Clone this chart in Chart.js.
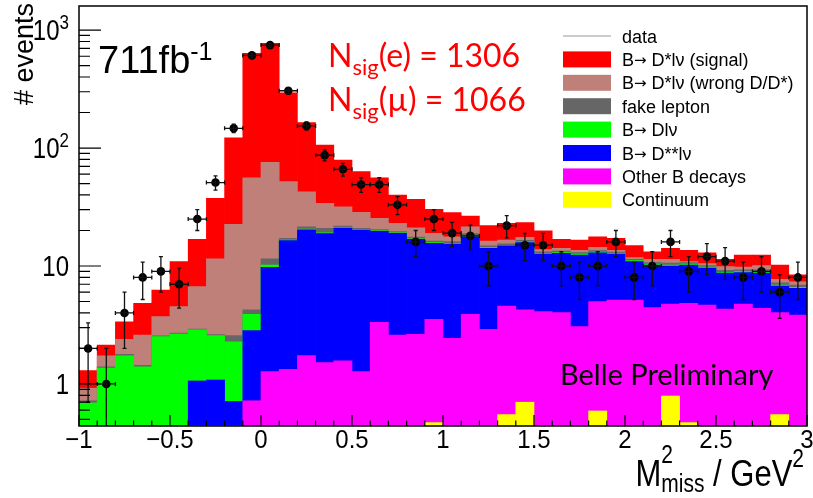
<!DOCTYPE html>
<html>
<head>
<meta charset="utf-8">
<title>M2miss distribution</title>
<script src="https://cdn.jsdelivr.net/npm/chart.js@4.4.1/dist/chart.umd.min.js"></script>
<style>
  html, body { margin: 0; padding: 0; background: #fff; }
  canvas { display: block; }
</style>
</head>
<body>
<canvas id="mmissChart" width="813" height="498"></canvas>
<script>
// 40 bins of 0.1 GeV^2 between -1 and 3
const binLow = -1, binWidth = 0.1, nBins = 40;
const binLabels = [];
for (let i = 0; i < nBins; i++) binLabels.push((binLow + binWidth * (i + 0.5)).toFixed(2));

// observed events per bin and their errors
const dataCounts = [2, 1, 4, 8, 9, 7, 25, 51, 147, 610,
                    746, 306, 154, 87, 66, 49, 49, 33, 16, 25,
                    19, 18, 10, 22, 15, 15, 10, 8, 10, 16,
                    8, 10, 16, 9, 12, 11, 8, 9, 6, 8];
const dataErrors = [1.3, 1.0, 2.0, 2.8, 3.0, 2.6, 5.0, 7.1, 12.1, 24.7,
                    27.3, 17.5, 12.4, 9.3, 8.1, 7.0, 7.0, 5.7, 4.0, 5.0,
                    4.4, 4.2, 3.2, 4.7, 3.9, 3.9, 3.2, 2.8, 3.2, 4.0,
                    2.8, 3.2, 4.0, 3.0, 3.5, 3.3, 2.8, 3.0, 2.4, 2.8];

// stacked MC: height of the stack at the top of each component
const topContinuum = [0, 0, 0, 0, 0, 0, 0, 0, 0, 0,
                      0, 0, 0, 0, 0, 0, 0, 0, 0, 0.47,
                      0, 0, 0, 0.55, 0.70, 0, 0, 0, 0.59, 0,
                      0, 0, 0.79, 0.47, 0, 0, 0, 0, 0.55, 0];
const topOtherB = [0, 0, 0, 0, 0, 0, 0, 0, 0, 0.72,
                   1.27, 1.33, 1.74, 1.52, 1.57, 1.27, 3.33, 2.6, 2.64, 3.53,
                   2.44, 3.9, 2.9, 4.58, 4.24, 4.1, 4.02, 3.06, 4.98, 5.15,
                   5.15, 4.43, 4.76, 4.83, 4.67, 4.32, 4.76, 4.38, 4.02, 3.84];
const topDss = [0, 0, 0, 0, 0, 0, 1.06, 1.08, 0.71, 2.83,
                9.75, 16.4, 20.3, 18.8, 21.0, 20.2, 19.7, 18.9, 16.8, 15.6,
                15.3, 17.7, 14.1, 14.8, 15.8, 12.6, 12.8, 12.4, 12.9, 12.6,
                10.9, 10.2, 10.0, 10.2, 9.6, 8.7, 8.8, 8.7, 6.75, 6.47];
const topDlnu = [0.69, 1.36, 1.73, 1.40, 2.52, 2.65, 2.87, 2.57, 2.28, 3.9,
                 10.2, 16.6, 20.6, 19.1, 21.3, 20.4, 19.9, 19.1, 17.0, 15.8,
                 15.6, 17.9, 14.3, 15.0, 16.0, 12.8, 13.0, 12.6, 13.1, 12.8,
                 11.1, 10.4, 10.2, 10.4, 9.8, 8.85, 8.95, 8.85, 6.9, 6.6];
const topFake = [0.72, 1.4, 1.78, 1.44, 2.56, 2.7, 2.92, 2.62, 2.57, 4.24,
                 11.5, 17.2, 21.5, 20.9, 21.8, 20.9, 20.4, 19.6, 17.6, 16.3,
                 16.1, 18.8, 14.8, 15.4, 16.5, 13.2, 13.4, 13.0, 13.5, 13.1,
                 11.4, 10.7, 10.6, 10.7, 10.1, 9.2, 9.3, 9.3, 7.2, 6.9];
const topWrongD = [0.92, 1.73, 2.39, 2.6, 3.72, 4.52, 6.68, 11.5, 22.6, 56,
                   75.7, 52, 42.6, 34, 31.8, 28.5, 25.4, 23, 21.1, 18.9,
                   17.7, 21.5, 16.3, 16.6, 17.5, 13.8, 14.1, 13.6, 14.4, 13.6,
                   11.8, 11.4, 11.4, 10.9, 10.5, 9.9, 9.8, 10.1, 7.7, 7.35];
const topSignal = [1.3, 2.14, 3.37, 4.83, 6.26, 10.9, 16.8, 37.5, 122, 634,
                   771, 294, 164, 106, 79, 63, 56, 40, 36.7, 30.2,
                   28.3, 26.5, 22, 23, 23.3, 19.9, 16.8, 16.6, 17.7, 17.2,
                   14.9, 13.2, 14.1, 13.6, 12.9, 11.4, 12.4, 12.4, 10.2, 8.4];

// axis ranges and tick labels
const xMin = -1, xMax = 3;
const yMin = 0.44, yMax = 1600;
const xTickLabels = ['\u22121', '\u22120.5', '0', '0.5', '1', '1.5', '2', '2.5', '3'];
const xTickValues = [-1, -0.5, 0, 0.5, 1, 1.5, 2, 2.5, 3];
const yDecades = [0, 1, 2, 3];

// components, bottom of the stack first; legend text split around the arrow
const layers = [
  { label: ['', '', 'Continuum'],               data: topContinuum, color: '#ffff00' },
  { label: ['', '', 'Other B decays'],          data: topOtherB,    color: '#ff00ff' },
  { label: ['B', '\u2192', ' D**l\u03bd'],      data: topDss,       color: '#0000ff' },
  { label: ['B', '\u2192', ' Dl\u03bd'],        data: topDlnu,      color: '#00ff00' },
  { label: ['', '', 'fake lepton'],             data: topFake,      color: '#666666' },
  { label: ['B', '\u2192', ' D*l\u03bd (wrong D/D*)'], data: topWrongD, color: '#c0807a' },
  { label: ['B', '\u2192', ' D*l\u03bd (signal)'], data: topSignal,  color: '#ff0000' }
];

const ROOT_FONT = '"Liberation Sans", Arial, sans-serif';
const ARROW_FONT = '"DejaVu Sans", sans-serif';
const SLIDE_FONT = 'Lato, "Open Sans", sans-serif';

// draw a row of text pieces (sub/superscripts) as one label
function drawRuns(ctx, parts, x, y, align) {
  const pos = [];
  let cursor = 0, lastStart = 0, lastW = 0;
  parts.forEach(p => {
    ctx.font = p.size + 'px ' + (p.family || ROOT_FONT);
    const w = ctx.measureText(p.text).width;
    if (p.sameX) {
      pos.push(lastStart);
      lastW = Math.max(lastW, w);
      cursor = lastStart + lastW;
    } else {
      pos.push(cursor);
      lastStart = cursor;
      lastW = w;
      cursor += w;
    }
  });
  const x0 = align === 'right' ? x - cursor : align === 'center' ? x - cursor / 2 : x;
  parts.forEach((p, k) => {
    ctx.save();
    ctx.font = p.size + 'px ' + (p.family || ROOT_FONT);
    ctx.fillStyle = p.color || '#000';
    ctx.textAlign = 'left';
    ctx.textBaseline = 'alphabetic';
    ctx.translate(x0 + pos[k], y + (p.dy || 0));
    ctx.scale(1, p.sy || 1);
    ctx.fillText(p.text, 0, 0);
    ctx.restore();
  });
  return cursor;
}

const whiteBackground = {
  id: 'whiteBackground',
  beforeDraw(chart) {
    const ctx = chart.ctx;
    ctx.save();
    ctx.fillStyle = '#fff';
    ctx.fillRect(0, 0, chart.width, chart.height);
    ctx.restore();
  }
};

// horizontal bar over the bin width, vertical bar for the error
const errorBars = {
  id: 'errorBars',
  afterDatasetsDraw(chart) {
    const ctx = chart.ctx;
    const xs = chart.scales.x, ys = chart.scales.y;
    const area = chart.chartArea;
    const half = (xs.getPixelForValue(1) - xs.getPixelForValue(0)) / 2;
    const cap = 2;
    ctx.save();
    ctx.beginPath();
    ctx.rect(area.left, area.top, area.right - area.left, area.bottom - area.top);
    ctx.clip();
    ctx.strokeStyle = '#111';
    ctx.lineWidth = 1.3;
    dataCounts.forEach((n, i) => {
      const x = xs.getPixelForValue(i);
      const y = ys.getPixelForValue(n);
      const lo = n - dataErrors[i];
      const yHi = ys.getPixelForValue(n + dataErrors[i]);
      const yLo = lo > yMin ? ys.getPixelForValue(lo) : area.bottom + 2;
      ctx.beginPath();
      ctx.moveTo(x - half, y); ctx.lineTo(x + half, y);
      ctx.moveTo(x - half, y - cap); ctx.lineTo(x - half, y + cap);
      ctx.moveTo(x + half, y - cap); ctx.lineTo(x + half, y + cap);
      ctx.moveTo(x, yHi); ctx.lineTo(x, yLo);
      ctx.moveTo(x - cap, yHi); ctx.lineTo(x + cap, yHi);
      if (lo > yMin) { ctx.moveTo(x - cap, yLo); ctx.lineTo(x + cap, yLo); }
      ctx.stroke();
    });
    ctx.restore();
  }
};

// frame, inward ticks, labels, legend and annotations
const rootFrame = {
  id: 'rootFrame',
  afterDraw(chart) {
    const ctx = chart.ctx;
    const a = chart.chartArea;
    const xv = chart.scales.xv, ys = chart.scales.y;
    ctx.save();
    ctx.strokeStyle = '#000';
    ctx.lineWidth = 1.5;
    ctx.strokeRect(a.left, a.top, a.right - a.left, a.bottom - a.top);

    // x ticks every 0.1, long ones every 0.5
    ctx.lineWidth = 1.2;
    ctx.beginPath();
    for (let k = -10; k <= 30; k++) {
      const px = xv.getPixelForValue(k / 10);
      const len = k % 5 === 0 ? 11 : 5.5;
      ctx.moveTo(px, a.bottom); ctx.lineTo(px, a.bottom - len);
    }
    // y ticks at k * 10^n
    for (let n = -1; n <= 3; n++) {
      for (let k = 1; k <= 9; k++) {
        const v = k * Math.pow(10, n);
        if (v < yMin || v > yMax) continue;
        const py = ys.getPixelForValue(v);
        const len = k === 1 ? 22 : 11;
        ctx.moveTo(a.left, py); ctx.lineTo(a.left + len, py);
      }
    }
    ctx.stroke();

    xTickValues.forEach((v, i) => {
      drawRuns(ctx, [{ text: xTickLabels[i], size: 24, sy: 1.1 }], xv.getPixelForValue(v), 448, 'center');
    });
    yDecades.forEach(d => {
      const py = ys.getPixelForValue(Math.pow(10, d));
      const parts = d === 0 ? [{ text: '1', size: 24, sy: 1.2 }]
        : d === 1 ? [{ text: '10', size: 24, sy: 1.2 }]
        : [{ text: '10', size: 24, sy: 1.2 }, { text: String(d), size: 17, sy: 1.2, dy: -11 }];
      drawRuns(ctx, parts, 69, py + 10, 'right');
    });

    // axis titles
    drawRuns(ctx, [
      { text: 'M', size: 31, sy: 1.2 },
      { text: '2', size: 21, sy: 1.2, dy: -23 },
      { text: 'miss', size: 21, sy: 1.2, dy: 6, sameX: true },
      { text: ' / GeV', size: 31, sy: 1.2 },
      { text: '2', size: 21, sy: 1.2, dy: -19 }
    ], 804, 486, 'right');
    ctx.save();
    ctx.translate(33, 3);
    ctx.rotate(-Math.PI / 2);
    drawRuns(ctx, [{ text: '# events', size: 27 }], 0, 0, 'right');
    ctx.restore();

    // legend
    ctx.fillStyle = '#fff';
    ctx.fillRect(546, a.top + 1, a.right - 547, 208);
    const rowY = 36, rowStep = 23.4;
    ctx.strokeStyle = '#bbbbbb';
    ctx.lineWidth = 1.5;
    ctx.beginPath();
    ctx.moveTo(563, rowY); ctx.lineTo(611, rowY);
    ctx.stroke();
    drawRuns(ctx, [{ text: 'data', size: 18 }], 622, rowY + 6.5, 'left');
    layers.slice().reverse().forEach((l, k) => {
      const y = rowY + rowStep * (k + 1);
      ctx.fillStyle = l.color;
      ctx.fillRect(563, y - 8, 48, 16);
      drawRuns(ctx, [
        { text: l.label[0], size: 18 },
        { text: l.label[1], size: 15, family: ARROW_FONT, dy: -1 },
        { text: l.label[2], size: 18 }
      ], 622, y + 6.5, 'left');
    });

    // luminosity and fit results
    drawRuns(ctx, [
      { text: '711fb', size: 38 },
      { text: '-1', size: 25, dy: -13 }
    ], 98, 73, 'left');
    const red = '#ff0000';
    drawRuns(ctx, [
      { text: 'N', size: 32, family: SLIDE_FONT, color: red },
      { text: 'sig', size: 22, family: SLIDE_FONT, color: red, dy: 8 },
      { text: '(e) = 1306', size: 32, family: SLIDE_FONT, color: red }
    ], 328, 67, 'left');
    drawRuns(ctx, [
      { text: 'N', size: 32, family: SLIDE_FONT, color: red },
      { text: 'sig', size: 22, family: SLIDE_FONT, color: red, dy: 8 },
      { text: '(\u00b5) = 1066', size: 32, family: SLIDE_FONT, color: red }
    ], 328, 111, 'left');
    drawRuns(ctx, [{ text: 'Belle Preliminary', size: 29, family: SLIDE_FONT }], 560, 385, 'left');
    ctx.restore();
  }
};

const datasets = layers.map((l, k) => ({
  type: 'bar',
  label: l.label.join(''),
  data: l.data,
  backgroundColor: l.color,
  borderWidth: 0,
  barPercentage: 1,
  categoryPercentage: 1,
  grouped: false,
  order: k + 1,
  xAxisID: 'x',
  yAxisID: 'y'
}));
datasets.push({
  type: 'line',
  label: 'data',
  data: dataCounts,
  showLine: false,
  pointRadius: 4.3,
  pointHoverRadius: 4.3,
  pointBackgroundColor: '#000',
  pointBorderWidth: 0,
  order: 0,
  xAxisID: 'x',
  yAxisID: 'y'
});

new Chart(document.getElementById('mmissChart').getContext('2d'), {
  type: 'bar',
  data: { labels: binLabels, datasets: datasets },
  options: {
    responsive: false,
    animation: false,
    events: [],
    layout: { padding: { left: 79, right: 6, top: 6, bottom: 72 } },
    scales: {
      x: { type: 'category', display: false, offset: true },
      xv: { type: 'linear', display: false, offset: false, min: xMin, max: xMax },
      y: { type: 'logarithmic', display: false, min: yMin, max: yMax }
    },
    plugins: {
      legend: { display: false },
      tooltip: { enabled: false }
    }
  },
  plugins: [whiteBackground, errorBars, rootFrame]
});
</script>
</body>
</html>
